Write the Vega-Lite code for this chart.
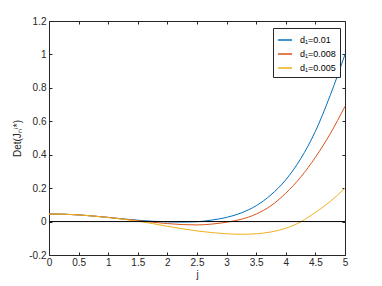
{
  "$schema": "https://vega.github.io/schema/vega-lite/v6.json",
  "autosize": "none",
  "width": 296,
  "height": 234,
  "padding": {"left": 49, "top": 21, "right": 37, "bottom": 31},
  "background": "white",
  "config": {
    "view": {"stroke": null},
    "font": "Liberation Sans",
    "axis": {"grid": false, "domainColor": "#262626", "tickColor": "#262626", "labelColor": "#262626", "titleColor": "#262626", "labelFont": "Liberation Sans", "titleFont": "Liberation Sans", "labelFontSize": 10, "titleFontSize": 10, "titleFontWeight": "normal", "tickSize": -3, "domainWidth": 1, "tickWidth": 1}
  },
  "datasets": {
    "curves": [
      {"j": 0, "v": 0.045, "s": "d₁=0.01"}, {"j": 0.25, "v": 0.044, "s": "d₁=0.01"}, {"j": 0.5, "v": 0.04, "s": "d₁=0.01"}, {"j": 0.75, "v": 0.033, "s": "d₁=0.01"}, {"j": 1, "v": 0.025, "s": "d₁=0.01"}, {"j": 1.25, "v": 0.016, "s": "d₁=0.01"}, {"j": 1.5, "v": 0.008, "s": "d₁=0.01"}, {"j": 1.75, "v": 0.002, "s": "d₁=0.01"}, {"j": 2, "v": -0.002, "s": "d₁=0.01"}, {"j": 2.25, "v": -0.003, "s": "d₁=0.01"}, {"j": 2.5, "v": -0.001, "s": "d₁=0.01"}, {"j": 2.75, "v": 0.009, "s": "d₁=0.01"}, {"j": 3, "v": 0.025, "s": "d₁=0.01"}, {"j": 3.25, "v": 0.052, "s": "d₁=0.01"}, {"j": 3.5, "v": 0.095, "s": "d₁=0.01"}, {"j": 3.75, "v": 0.16, "s": "d₁=0.01"}, {"j": 4, "v": 0.25, "s": "d₁=0.01"}, {"j": 4.25, "v": 0.375, "s": "d₁=0.01"}, {"j": 4.5, "v": 0.54, "s": "d₁=0.01"}, {"j": 4.75, "v": 0.755, "s": "d₁=0.01"}, {"j": 5, "v": 1.0, "s": "d₁=0.01"},
      {"j": 0, "v": 0.045, "s": "d₁=0.008"}, {"j": 0.25, "v": 0.044, "s": "d₁=0.008"}, {"j": 0.5, "v": 0.04, "s": "d₁=0.008"}, {"j": 0.75, "v": 0.033, "s": "d₁=0.008"}, {"j": 1, "v": 0.025, "s": "d₁=0.008"}, {"j": 1.25, "v": 0.015, "s": "d₁=0.008"}, {"j": 1.5, "v": 0.006, "s": "d₁=0.008"}, {"j": 1.75, "v": -0.004, "s": "d₁=0.008"}, {"j": 2, "v": -0.012, "s": "d₁=0.008"}, {"j": 2.25, "v": -0.018, "s": "d₁=0.008"}, {"j": 2.5, "v": -0.02, "s": "d₁=0.008"}, {"j": 2.75, "v": -0.015, "s": "d₁=0.008"}, {"j": 3, "v": -0.004, "s": "d₁=0.008"}, {"j": 3.25, "v": 0.014, "s": "d₁=0.008"}, {"j": 3.5, "v": 0.045, "s": "d₁=0.008"}, {"j": 3.75, "v": 0.095, "s": "d₁=0.008"}, {"j": 4, "v": 0.17, "s": "d₁=0.008"}, {"j": 4.25, "v": 0.265, "s": "d₁=0.008"}, {"j": 4.5, "v": 0.385, "s": "d₁=0.008"}, {"j": 4.75, "v": 0.525, "s": "d₁=0.008"}, {"j": 5, "v": 0.69, "s": "d₁=0.008"},
      {"j": 0, "v": 0.045, "s": "d₁=0.005"}, {"j": 0.25, "v": 0.044, "s": "d₁=0.005"}, {"j": 0.5, "v": 0.04, "s": "d₁=0.005"}, {"j": 0.75, "v": 0.033, "s": "d₁=0.005"}, {"j": 1, "v": 0.024, "s": "d₁=0.005"}, {"j": 1.25, "v": 0.014, "s": "d₁=0.005"}, {"j": 1.5, "v": 0.002, "s": "d₁=0.005"}, {"j": 1.75, "v": -0.012, "s": "d₁=0.005"}, {"j": 2, "v": -0.028, "s": "d₁=0.005"}, {"j": 2.25, "v": -0.043, "s": "d₁=0.005"}, {"j": 2.5, "v": -0.056, "s": "d₁=0.005"}, {"j": 2.75, "v": -0.066, "s": "d₁=0.005"}, {"j": 3, "v": -0.073, "s": "d₁=0.005"}, {"j": 3.25, "v": -0.076, "s": "d₁=0.005"}, {"j": 3.5, "v": -0.073, "s": "d₁=0.005"}, {"j": 3.75, "v": -0.062, "s": "d₁=0.005"}, {"j": 4, "v": -0.04, "s": "d₁=0.005"}, {"j": 4.25, "v": -0.002, "s": "d₁=0.005"}, {"j": 4.5, "v": 0.055, "s": "d₁=0.005"}, {"j": 4.75, "v": 0.12, "s": "d₁=0.005"}, {"j": 5, "v": 0.2, "s": "d₁=0.005"}
    ],
    "zero": [{"j": 0, "v": 0}, {"j": 5, "v": 0}]
  },
  "layer": [
    {
      "data": {"name": "curves"},
      "mark": {"type": "line", "strokeWidth": 1, "interpolate": "monotone"},
      "encoding": {
        "x": {"field": "j", "type": "quantitative", "scale": {"domain": [0, 5], "nice": false, "zero": false}, "axis": {"title": "j", "values": [0, 0.5, 1, 1.5, 2, 2.5, 3, 3.5, 4, 4.5, 5], "labelExpr": "toString(round(datum.value*10)/10)", "labelPadding": 5, "titlePadding": 2, "labelFlush": false}},
        "y": {"field": "v", "type": "quantitative", "scale": {"domain": [-0.2, 1.2], "nice": false, "zero": false}, "axis": {"title": "Det(Jₙⁱ*)", "values": [-0.2, 0, 0.2, 0.4, 0.6, 0.8, 1, 1.2], "labelExpr": "toString(round(datum.value*10)/10)", "labelPadding": 6, "titlePadding": 6}},
        "color": {"field": "s", "type": "nominal", "scale": {"domain": ["d₁=0.01", "d₁=0.008", "d₁=0.005"], "range": ["#0072BD", "#D95319", "#EDB120"]},
          "legend": {"title": null, "orient": "none", "legendX": 224, "legendY": 7, "symbolType": "stroke", "symbolStrokeWidth": 1.5, "symbolSize": 200, "labelFontSize": 9, "labelFont": "Liberation Sans", "labelColor": "#000000", "strokeColor": "#262626", "fillColor": "white", "padding": 4, "rowPadding": 1, "labelOffset": 7, "symbolOpacity": 1}}
      }
    },
    {
      "data": {"name": "zero"},
      "mark": {"type": "line", "color": "black", "strokeWidth": 1},
      "encoding": {
        "x": {"field": "j", "type": "quantitative", "axis": {"orient": "top", "labels": false, "title": null, "values": [0, 0.5, 1, 1.5, 2, 2.5, 3, 3.5, 4, 4.5, 5]}},
        "y": {"field": "v", "type": "quantitative", "axis": {"orient": "right", "labels": false, "title": null, "values": [-0.2, 0, 0.2, 0.4, 0.6, 0.8, 1, 1.2]}}
      }
    }
  ],
  "resolve": {"axis": {"x": "independent", "y": "independent"}}
}
